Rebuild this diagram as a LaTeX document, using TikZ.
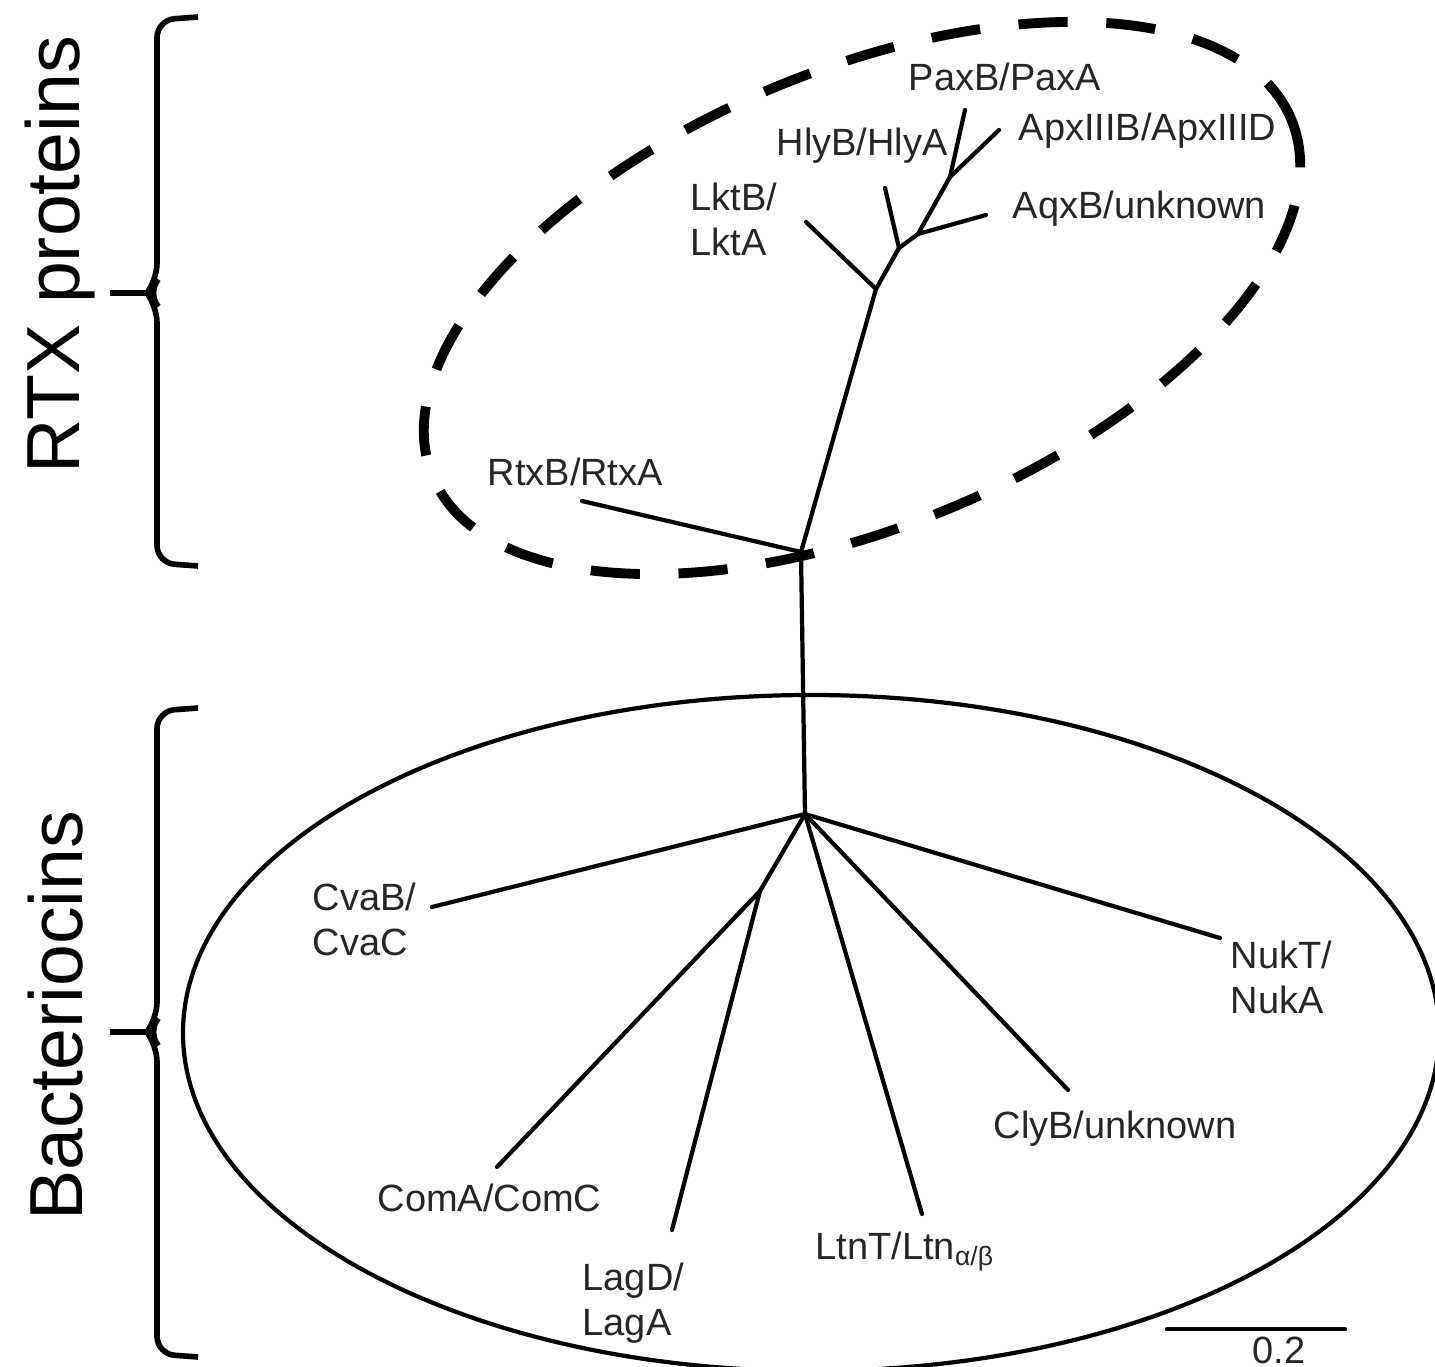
\documentclass[tikz,border=0pt]{standalone}
\usepackage{fontspec}
\setmainfont{Liberation Sans}

\begin{document}
\begin{tikzpicture}[x=0.01cm,y=-0.01cm,
  branch/.style={line width=1.2pt,line cap=round},
  leaf/.style={anchor=north west,inner sep=0pt,align=left,text=black!85,
    font=\fontsize{10.8}{12.8}\selectfont},
  group/.style={anchor=base,inner sep=0pt,rotate=90,font=\fontsize{21.4}{25}\selectfont},
  bracket/.style={line width=1.6pt,rounded corners=5pt},
  rtxring/.style={line width=2.8pt,dash pattern=on 14pt off 11pt},
  bacring/.style={line width=1.2pt}]
\clip (0,0) rectangle (1435,1367);

\node[group] (rtxtitle) at (80,255) {RTX proteins};
\node[group] (bactitle) at (82,1016) {Bacteriocins};
\draw[bracket] (198,17) -- (157,20) -- (157,281) -- (147,293) -- (157,305) -- (157,563) -- (198,566);
\draw[bracket] (110,293) -- (148,293);
\draw[bracket] (198,708) -- (157,711) -- (157,1020) -- (147,1032) -- (157,1044) -- (157,1354) -- (198,1357);
\draw[bracket] (110,1032) -- (148,1032);

\draw[rtxring,rotate around={22.6:(862,298)}] (862,298) ellipse [x radius=465,y radius=228];
\draw[bacring] (811,1033) ellipse [x radius=628,y radius=338];

\coordinate (r1) at (801,552);
\coordinate (r2) at (805,814);
\coordinate (n1) at (876,289);
\coordinate (n2) at (899,248);
\coordinate (n3) at (918,234);
\coordinate (n4) at (950,177);
\coordinate (m1) at (760,891);
\coordinate (rtx) at (582,501);
\coordinate (lkt) at (806,222);
\coordinate (hly) at (885,188);
\coordinate (aqx) at (986,215);
\coordinate (pax) at (965,110);
\coordinate (apx) at (999,130);
\coordinate (cva) at (432,907);
\coordinate (com) at (497,1167);
\coordinate (lag) at (672,1230);
\coordinate (ltn) at (922,1214);
\coordinate (cly) at (1068,1090);
\coordinate (nuk) at (1220,938);
\coordinate (sb1) at (1167,1329);
\coordinate (sb2) at (1345,1329);

\draw[branch] (r2) -- (r1) -- (n1) -- (n2) -- (n3) -- (n4) -- (pax);
\draw[branch] (r1) -- (rtx);
\draw[branch] (n1) -- (lkt);
\draw[branch] (n2) -- (hly);
\draw[branch] (n3) -- (aqx);
\draw[branch] (n4) -- (apx);
\draw[branch] (r2) -- (cva);
\draw[branch] (r2) -- (m1) -- (com);
\draw[branch] (m1) -- (lag);
\draw[branch] (r2) -- (ltn);
\draw[branch] (r2) -- (cly);
\draw[branch] (r2) -- (nuk);
\draw[branch] (sb1) -- (sb2);

\node[leaf] (paxlab) at (908,62) {PaxB/PaxA};
\node[leaf] (hlylab) at (776,127) {HlyB/HlyA};
\node[leaf] (apxlab) at (1018,112) {ApxIIIB/ApxIIID};
\node[leaf] (lktlab) at (690,182) {LktB/\\LktA};
\node[leaf] (aqxlab) at (1012,190) {AqxB/unknown};
\node[leaf] (rtxlab) at (487,457) {RtxB/RtxA};
\node[leaf] (cvalab) at (312,882) {CvaB/\\CvaC};
\node[leaf] (nuklab) at (1230,940) {NukT/\\NukA};
\node[leaf] (clylab) at (993,1110) {ClyB/unknown};
\node[leaf] (comlab) at (377,1183) {ComA/ComC};
\node[leaf] (ltnlab) at (815,1231) {LtnT/Ltn\textsubscript{α/β}};
\node[leaf] (laglab) at (582,1262) {LagD/\\LagA};
\node[leaf] (sblab) at (1252,1336) {0.2};
\end{tikzpicture}
\end{document}
